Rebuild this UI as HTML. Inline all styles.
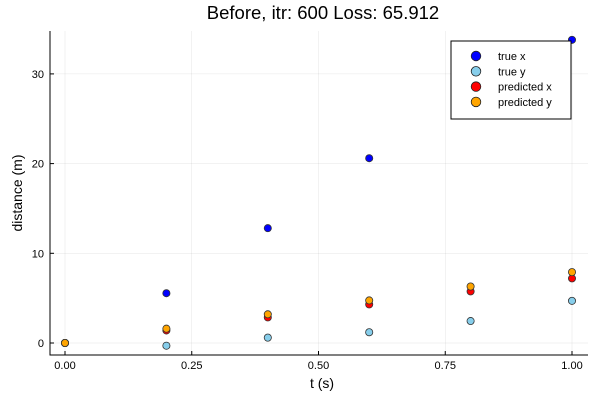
<!DOCTYPE html>
<html><head><meta charset="utf-8"><style>
body{margin:0;background:#fff}
svg{font-family:"Liberation Sans","DejaVu Sans",sans-serif}
</style></head><body>
<svg id="chart" width="600" height="400">
<rect width="600" height="400" fill="#fff"/>
<text x="323" y="19" font-size="18.5" text-anchor="middle">Before, itr: 600 Loss: 65.912</text>
<g id="grid"></g>
<g id="axes"></g>
<g id="marks"></g>
<text x="322" y="388" font-size="14" text-anchor="middle">t (s)</text>
<text transform="translate(22,193) rotate(-90)" font-size="14" text-anchor="middle">distance (m)</text>
<g id="legend"></g>
</svg>
<script>
const tTrueX=[0,0.2,0.4,0.6,1.0];
const trueX=[0,5.55,12.8,20.6,33.8];
const tAll=[0,0.2,0.4,0.6,0.8,1.0];
const trueY=[0,-0.3,0.6,1.2,2.45,4.7];
const predX=[0,1.4,2.85,4.3,5.75,7.2];
const predY=[0,1.6,3.2,4.75,6.3,7.9];
const xTicks=[0,0.25,0.5,0.75,1.0];
const xTickLabels=["0.00","0.25","0.50","0.75","1.00"];
const yTicks=[0,10,20,30];
const yTickLabels=["0","10","20","30"];
const seriesNames=["true x","true y","predicted x","predicted y"];
const seriesColors=["#0000ff","#87ceeb","#ff0000","#ffa500"];

const L=50,R=588,T=31,B=355;
const xs=v=>65+v*507;
const ys=v=>343-v*8.97;
const NS="http://www.w3.org/2000/svg";
function mk(tag,attrs,parent){const e=document.createElementNS(NS,tag);for(const k in attrs)e.setAttribute(k,attrs[k]);parent.appendChild(e);return e;}
const grid=document.getElementById('grid'),axes=document.getElementById('axes'),marks=document.getElementById('marks'),leg=document.getElementById('legend');
xTicks.forEach((v,i)=>{
  const g=mk('line',{x1:xs(v),x2:xs(v),y1:T,y2:B,stroke:'#000','stroke-opacity':0.1,'stroke-width':0.5},grid);
  
  
  const t=mk('line',{x1:xs(v),x2:xs(v),y1:B,y2:B-4,stroke:'#000'},axes);
  
  
  const l=mk('text',{x:xs(v),y:B+14,'font-size':11,'text-anchor':'middle'},axes);l.textContent=xTickLabels[i];
  
  
});
yTicks.forEach((v,i)=>{
  const g=mk('line',{x1:L,x2:R,y1:ys(v),y2:ys(v),stroke:'#000','stroke-opacity':0.1,'stroke-width':0.5},grid);
  
  
  const t=mk('line',{x1:L,x2:L+4,y1:ys(v),y2:ys(v),stroke:'#000'},axes);
  
  
  const l=mk('text',{x:L-6,y:ys(v)+4,'font-size':11,'text-anchor':'end'},axes);l.textContent=yTickLabels[i];
  
  
});
const ax=mk('path',{d:`M${L},${T}V${B}H${R}`,fill:'none',stroke:'#000','stroke-width':1},axes);


const series=[[tTrueX,trueX],[tAll,trueY],[tAll,predX],[tAll,predY]];
series.forEach((s,k)=>{
  s[0].forEach((t,i)=>{
    const c=mk('circle',{cx:xs(t),cy:ys(s[1][i]),r:3.6,fill:seriesColors[k],stroke:'#333','stroke-width':0.8},marks);
    
    
  });
});
const box=mk('rect',{x:451,y:41,width:120,height:78,fill:'#fff',stroke:'#000','stroke-width':1},leg);


seriesNames.forEach((n,k)=>{
  const y=56+k*15.3;
  const c=mk('circle',{cx:476,cy:y,r:4.8,fill:seriesColors[k],stroke:'#222','stroke-width':0.8},leg);
  
  
  const t=mk('text',{x:498,y:y+4,'font-size':11},leg);t.textContent=n;
  
  
});
</script>
</body></html>
